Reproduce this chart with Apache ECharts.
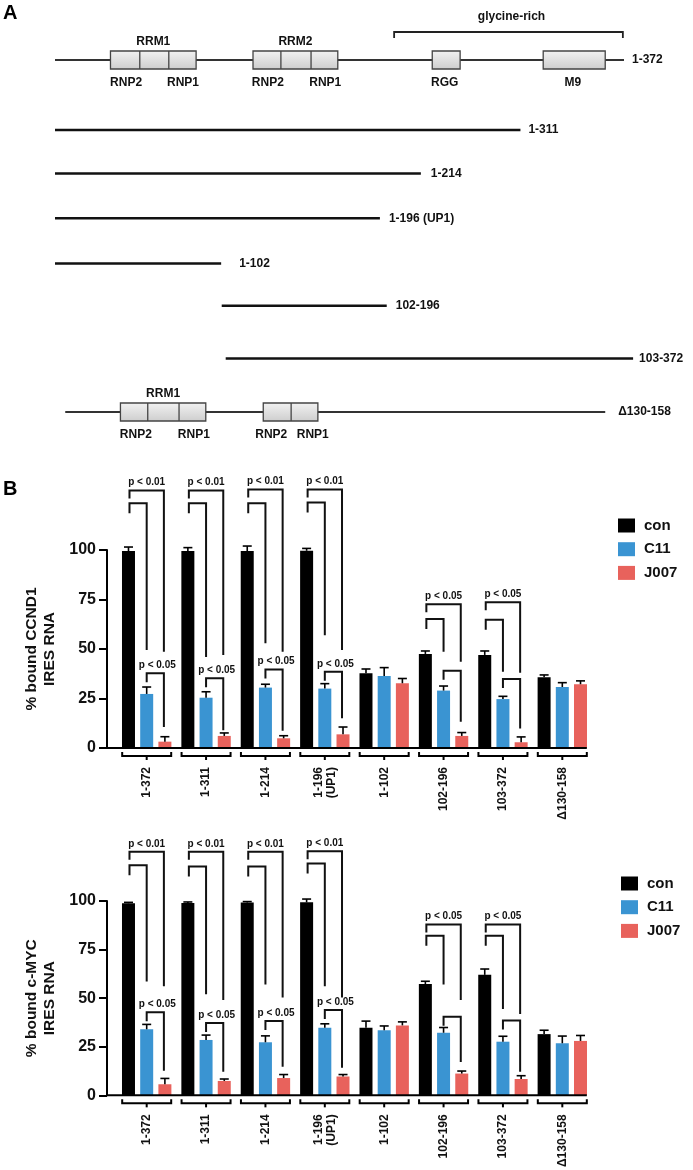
<!DOCTYPE html>
<html><head><meta charset="utf-8">
<script src="https://cdn.jsdelivr.net/npm/echarts@6/dist/echarts.min.js"></script>
<style>html,body{margin:0;padding:0;background:#fff}#c{width:693px;height:1170px}</style>
</head><body><div id="c"></div>
<script>
// ---------- Panel A: construct map (schematic units, full-length line = 0..100) ----------
const constructNames = ['1-372', '1-311', '1-214', '1-196 (UP1)', '1-102', '102-196', '103-372', '\u0394130-158'];
const constructStart = [0, 0, 0, 0, 0, 29.3, 30.0, 1.8];
const constructEnd = [100, 81.8, 64.3, 57.1, 29.2, 58.3, 101.6, 96.7];
const rowPos = [0, 70, 113.5, 158.3, 203.5, 245.7, 298.5, 352];

const domainRow = [0, 0, 0, 0, 7, 7];
const domainStart = [9.75, 34.8, 66.3, 85.8, 11.5, 36.6];
const domainEnd = [24.8, 49.7, 71.2, 96.7, 26.5, 46.2];
const domainDividers = [[14.9, 20.0], [39.7, 45.0], [], [], [16.3, 21.8], [41.5]];
const domainTitle = ['RRM1', 'RRM2', '', '', 'RRM1', ''];

const featureText = ['RNP2', 'RNP1', 'RNP2', 'RNP1', 'RGG', 'M9', 'RNP2', 'RNP1', 'RNP2', 'RNP1'];
const featurePos = [12.5, 22.5, 37.4, 47.5, 68.5, 91.0, 14.2, 24.4, 38.0, 45.3];
const featureRow = [0, 0, 0, 0, 0, 0, 7, 7, 7, 7];

const glycineRich = [59.6, 99.8];

// ---------- Panel B ----------
const categories = ['1-372', '1-311', '1-214', '1-196\n(UP1)', '1-102', '102-196', '103-372', '\u0394130-158'];
const treatments = ['con', 'C11', 'J007'];

const ccnd1Con = [99.5, 99.5, 99.5, 99.6, 37.7, 47.5, 47.0, 35.7];
const ccnd1ConErr = [2.0, 1.7, 2.5, 1.2, 2.2, 1.5, 2.0, 1.2];
const ccnd1C11 = [27.3, 25.4, 30.5, 30.0, 36.4, 29.0, 24.7, 30.8];
const ccnd1C11Err = [3.5, 3.0, 1.7, 2.5, 4.2, 2.3, 1.4, 2.2];
const ccnd1J007 = [3.2, 6.1, 4.9, 6.9, 32.7, 6.1, 2.9, 32.2];
const ccnd1J007Err = [2.5, 1.5, 1.3, 3.7, 2.4, 1.7, 2.7, 1.7];

const cmycCon = [98.8, 99.0, 99.2, 99.3, 34.8, 57.3, 62.0, 31.5];
const cmycConErr = [0.5, 0.5, 0.5, 1.7, 3.4, 1.4, 3.0, 2.0];
const cmycC11 = [34.0, 28.5, 27.3, 34.8, 33.5, 32.2, 27.6, 26.8];
const cmycC11Err = [2.5, 2.5, 3.3, 2.0, 2.2, 2.7, 2.8, 3.7];
const cmycJ007 = [5.7, 7.4, 8.9, 9.7, 36.0, 11.2, 8.4, 28.0];
const cmycJ007Err = [3.0, 1.0, 1.8, 1.0, 1.8, 1.3, 1.7, 2.8];

const yTicks = [0, 25, 50, 75, 100];

// significance brackets (values in % units)
const sigTopLabel = ['p < 0.01', 'p < 0.01', 'p < 0.01', 'p < 0.01', null, 'p < 0.05', 'p < 0.05', null];
const sigLowerLabel = ['p < 0.05', 'p < 0.05', 'p < 0.05', 'p < 0.05', null, null, null, null];

const ccnd1OuterTop = [130, 130, 130.5, 130.5, null, 72.6, 73.6, null];
const ccnd1InnerTop = [123.6, 123.6, 123.6, 124, null, 65.2, 64.8, null];
const ccnd1InnerEnd = [49.5, 46, 52.9, 57, null, 48.6, 38.5, null];
const ccnd1OuterEnd = [48.6, 47, 48.6, 49.5, null, 43.6, 38, null];
const ccnd1LowerTop = [37.7, 35.2, 39.7, 38.5, null, 39, 34.8, null];
const ccnd1LowerEnd = [10.6, 9, 8.7, 15, null, 13.3, 9.9, null];

const cmycOuterTop = [125.3, 125.3, 125.3, 125.6, null, 87.9, 87.9, null];
const cmycInnerTop = [118.4, 117.8, 117.8, 119.3, null, 82.1, 82.1, null];
const cmycInnerEnd = [58.6, 52, 57, 56.1, null, 57, 44.4, null];
const cmycOuterEnd = [56.1, 49, 50.3, 50.3, null, 49, 41.9, null];
const cmycLowerTop = [42.7, 37.2, 38.2, 43.9, null, 40.5, 38.5, null];
const cmycLowerEnd = [12.6, 12.1, 14.7, 14.2, null, 17.1, 12.1, null];

// ---------- styling ----------
const FONT = '"Liberation Sans", Arial, Helvetica, sans-serif';
const COLORS = ['#000000', '#3a94d2', '#e8625c'];
const BAR_W = 13, STEP = 18.2, Y_OFF = 10;
const labelGap = [8, 8, 10, 9, 18, 9, 6, 13];

const chart = echarts.init(document.getElementById('c'));

function ln(x1, y1, x2, y2, w, c) {
  return { type: 'line', shape: { x1, y1, x2, y2 }, style: { stroke: c || '#000', lineWidth: w || 2 } };
}
function pl(points, w, c) {
  return { type: 'polyline', shape: { points }, style: { stroke: c || '#000', lineWidth: w || 2, fill: null } };
}
function tx(text, x, y, font, align, va) {
  return { type: 'text', style: { text, x, y, font, fill: '#111', align: align || 'center', verticalAlign: va || 'middle' } };
}

const panelASeries = [
  { // construct lines + labels
    type: 'custom', xAxisIndex: 0, yAxisIndex: 0, silent: true, clip: false,
    data: constructNames.map((n, i) => [constructStart[i], rowPos[i], constructEnd[i]]),
    renderItem(params, api) {
      const i = params.dataIndex;
      const a = api.coord([api.value(0), api.value(1)]);
      const b = api.coord([api.value(2), api.value(1)]);
      const thin = (i === 0 || i === constructNames.length - 1);
      return { type: 'group', children: [
        ln(a[0], a[1], b[0], b[1], thin ? 2 : 2.6, thin ? '#333' : '#111'),
        tx(constructNames[i], b[0] + labelGap[i], b[1], 'bold 12px ' + FONT, 'left', 'middle')
      ] };
    }
  },
  { // domain boxes
    type: 'custom', xAxisIndex: 0, yAxisIndex: 0, silent: true, clip: false,
    data: domainStart.map((s, j) => [s, rowPos[domainRow[j]], domainEnd[j]]),
    renderItem(params, api) {
      const j = params.dataIndex;
      const row = api.value(1);
      const a = api.coord([api.value(0), row]);
      const b = api.coord([api.value(2), row]);
      const ch = [{
        type: 'rect', shape: { x: a[0], y: a[1] - 9, width: b[0] - a[0], height: 18 },
        style: { fill: new echarts.graphic.LinearGradient(0, 0, 0, 1, [{ offset: 0, color: '#f2f2f2' }, { offset: 1, color: '#cdcdcd' }]), stroke: '#444', lineWidth: 1.3 }
      }];
      domainDividers[j].forEach(d => {
        const p = api.coord([d, row]);
        ch.push(ln(p[0], p[1] - 9, p[0], p[1] + 9, 1.3, '#444'));
      });
      if (domainTitle[j]) ch.push(tx(domainTitle[j], (a[0] + b[0]) / 2, a[1] - 18, 'bold 12px ' + FONT));
      return { type: 'group', children: ch };
    }
  },
  { // feature labels
    type: 'custom', xAxisIndex: 0, yAxisIndex: 0, silent: true, clip: false,
    data: featurePos.map((x, j) => [x, rowPos[featureRow[j]]]),
    renderItem(params, api) {
      const p = api.coord([api.value(0), api.value(1)]);
      return tx(featureText[params.dataIndex], p[0], p[1] + 22.5, 'bold 12px ' + FONT);
    }
  },
  { // glycine-rich bracket
    type: 'custom', xAxisIndex: 0, yAxisIndex: 0, silent: true, clip: false,
    data: [[glycineRich[0], rowPos[0], glycineRich[1]]],
    renderItem(params, api) {
      const a = api.coord([api.value(0), api.value(1)]);
      const b = api.coord([api.value(2), api.value(1)]);
      const y = a[1] - 28;
      return { type: 'group', children: [
        pl([[a[0], y + 6], [a[0], y], [b[0], y], [b[0], y + 6]], 1.8, '#222'),
        tx('glycine-rich', (a[0] + b[0]) / 2 + 3, y - 15, 'bold 12px ' + FONT)
      ] };
    }
  }
];

function barSeries(xi, vals) {
  return vals.map((v, k) => ({
    type: 'bar', name: treatments[k], xAxisIndex: xi, yAxisIndex: xi, data: v,
    barWidth: BAR_W, barGap: '40%', itemStyle: { color: COLORS[k] }, silent: true
  }));
}
function errSeries(xi, vals, errs) {
  const data = [];
  categories.forEach((c, i) => vals.forEach((arr, k) => data.push([i, arr[i], errs[k][i], k])));
  return {
    type: 'custom', xAxisIndex: xi, yAxisIndex: xi, silent: true, clip: false, z: 4, data,
    renderItem(params, api) {
      const i = api.value(0), k = api.value(3);
      const b = api.coord([i, api.value(1)]);
      const t = api.coord([i, api.value(1) + api.value(2)]);
      const x = b[0] + (k - 1) * STEP;
      return { type: 'group', children: [
        ln(x, b[1], x, t[1], 1.6, '#000'),
        ln(x - 4.5, t[1], x + 4.5, t[1], 1.6, '#000')
      ] };
    }
  };
}
function sigSeries(xi, oT, iT, iE, oE, lT, lE) {
  const f = v => (v == null ? 0 : v);
  return {
    type: 'custom', xAxisIndex: xi, yAxisIndex: xi, silent: true, clip: false, z: 5,
    data: categories.map((c, i) => [i, f(oT[i]), f(iT[i]), f(iE[i]), f(oE[i]), f(lT[i]), f(lE[i])]),
    renderItem(params, api) {
      const i = params.dataIndex;
      if (sigTopLabel[i] == null) return { type: 'group', children: [] };
      const cx = api.coord([i, 0])[0];
      const xL = cx - STEP + 1, xM = cx, xR = cx + STEP - 1;
      const y = d => api.coord([i, api.value(d)])[1];
      const ot = y(1), it = y(2), ie = y(3), oe = y(4), lt = y(5), le = y(6);
      const ch = [
        pl([[xL, ot + 8], [xL, ot], [xR, ot], [xR, oe]], 2, '#111'),
        pl([[xL, it + 10], [xL, it], [xM, it], [xM, ie]], 2, '#111'),
        pl([[xM, lt + 9], [xM, lt], [xR, lt], [xR, le]], 2, '#111'),
        tx(sigTopLabel[i], cx, ot - 3, 'bold 10px ' + FONT, 'center', 'bottom')
      ];
      if (sigLowerLabel[i]) ch.push(tx(sigLowerLabel[i], (xM + xR) / 2 + 2, lt - 3, 'bold 10px ' + FONT, 'center', 'bottom'));
      return { type: 'group', children: ch };
    }
  };
}
function groupSeries(xi) {
  return {
    type: 'custom', xAxisIndex: xi, yAxisIndex: xi, silent: true, clip: false, z: 3,
    data: categories.map((c, i) => [i, 0]),
    renderItem(params, api) {
      const i = params.dataIndex;
      const p = api.coord([i, 0]);
      const h = 24.5, y = p[1] + 8;
      const ch = [
        pl([[p[0] - h, y - 4], [p[0] - h, y], [p[0] + h, y], [p[0] + h, y - 4]], 2, '#000'),
        ln(p[0], y, p[0], y + 4, 2, '#000')
      ];
      if (i === 0) {
        const last = api.coord([categories.length - 1, 0]);
        ch.push(ln(params.coordSys.x - Y_OFF - 1, p[1], last[0] + h, p[1], 2, '#000'));
      }
      return { type: 'group', children: ch };
    }
  };
}

function xAxisB(gi) {
  return {
    type: 'category', gridIndex: gi, data: categories,
    axisLine: { show: false }, axisTick: { show: false },
    axisLabel: { rotate: 90, interval: 0, margin: 19, color: '#111', fontFamily: FONT, fontWeight: 'bold', fontSize: 12, lineHeight: 13 }
  };
}
function yAxisB(gi, name) {
  return {
    type: 'value', gridIndex: gi, min: yTicks[0], max: yTicks[yTicks.length - 1], interval: 25, offset: Y_OFF,
    name, nameLocation: 'middle', nameGap: 40,
    nameTextStyle: { color: '#111', fontFamily: FONT, fontSize: 15.5, fontWeight: 'bold', lineHeight: 18 },
    axisLine: { show: true, lineStyle: { color: '#000', width: 2 } },
    axisTick: { show: true, length: 8, lineStyle: { color: '#000', width: 2 } },
    axisLabel: { color: '#111', fontFamily: FONT, fontWeight: 'bold', fontSize: 16, margin: 11 },
    splitLine: { show: false }
  };
}
function legendB(left, top) {
  return {
    data: treatments, left, top, orient: 'vertical', icon: 'rect', padding: 0,
    itemWidth: 17, itemHeight: 14, itemGap: 8.7, selectedMode: false,
    textStyle: { color: '#111', fontFamily: FONT, fontWeight: 'bold', fontSize: 15, lineHeight: 14, padding: [0, 0, 0, 4] }
  };
}

chart.setOption({
  animation: false,
  backgroundColor: '#fff',
  title: [
    { text: 'A', left: 3, top: 3, padding: 0, textStyle: { fontFamily: FONT, fontSize: 20, fontWeight: 'bold', color: '#000' } },
    { text: 'B', left: 3, top: 479, padding: 0, textStyle: { fontFamily: FONT, fontSize: 20, fontWeight: 'bold', color: '#000' } }
  ],
  grid: [
    { left: 55, top: 60, width: 569, height: 352 },
    { left: 117, top: 550, width: 475, height: 198 },
    { left: 117, top: 901, width: 475, height: 199 }
  ],
  xAxis: [
    { type: 'value', gridIndex: 0, min: 0, max: 100, show: false },
    xAxisB(1), xAxisB(2)
  ],
  yAxis: [
    { type: 'value', gridIndex: 0, min: 0, max: 352, inverse: true, show: false },
    yAxisB(1, '% bound CCND1\nIRES RNA'),
    yAxisB(2, '% bound c-MYC\nIRES RNA')
  ],
  legend: [legendB(618, 518), legendB(621, 876)],
  series: [
    ...panelASeries,
    ...barSeries(1, [ccnd1Con, ccnd1C11, ccnd1J007]),
    errSeries(1, [ccnd1Con, ccnd1C11, ccnd1J007], [ccnd1ConErr, ccnd1C11Err, ccnd1J007Err]),
    sigSeries(1, ccnd1OuterTop, ccnd1InnerTop, ccnd1InnerEnd, ccnd1OuterEnd, ccnd1LowerTop, ccnd1LowerEnd),
    groupSeries(1),
    ...barSeries(2, [cmycCon, cmycC11, cmycJ007]),
    errSeries(2, [cmycCon, cmycC11, cmycJ007], [cmycConErr, cmycC11Err, cmycJ007Err]),
    sigSeries(2, cmycOuterTop, cmycInnerTop, cmycInnerEnd, cmycOuterEnd, cmycLowerTop, cmycLowerEnd),
    groupSeries(2)
  ]
});
</script>
</body></html>
